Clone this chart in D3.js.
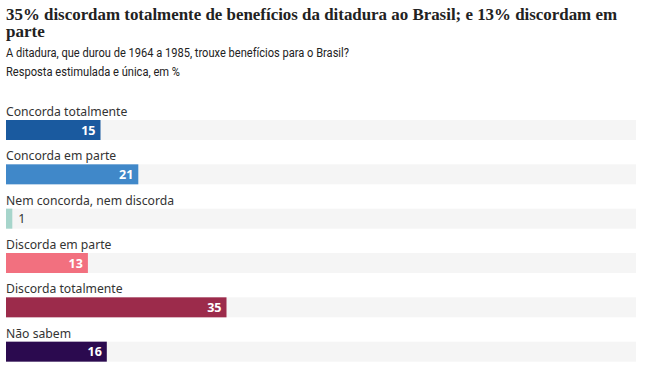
<!DOCTYPE html>
<html><head><meta charset="utf-8">
<script src="https://cdn.jsdelivr.net/npm/d3@7"></script>
<style>
body{margin:0;background:#fff;}
svg{display:block;}
</style></head>
<body>
<svg id="chart" width="646" height="379"></svg>
<script>
const titleLines = ["35% discordam totalmente de benefícios da ditadura ao Brasil; e 13% discordam em", "parte"];
const subtitle = "A ditadura, que durou de 1964 a 1985, trouxe benefícios para o Brasil?";
const note = "Resposta estimulada e única, em %";
const categories = ["Concorda totalmente","Concorda em parte","Nem concorda, nem discorda","Discorda em parte","Discorda totalmente","Não sabem"];
const values = [15,21,1,13,35,16];
const colors = ["#1a5a9f","#4088c9","#a6d5cb","#f2707f","#9c2b4b","#2b0a4f"];

const svg = d3.select("#chart");
const left = 6, right = 636;
const x = d3.scaleLinear().domain([0,100]).range([left,right]);
const y = d3.scaleBand().domain(categories).range([98, 364]).paddingInner(0).paddingOuter(0);

const t = svg.append("text").attr("x",6).attr("font-family","Liberation Serif, DejaVu Serif, serif")
  .attr("font-weight","bold").attr("font-size",17).attr("fill","#222");
t.append("tspan").attr("x",6).attr("y",19.5).attr("textLength",611).attr("lengthAdjust","spacingAndGlyphs").text(titleLines[0]);
t.append("tspan").attr("x",6).attr("y",37).text(titleLines[1]);
svg.append("text").attr("x",6).attr("y",57).attr("font-family","Roboto, sans-serif")
  .attr("font-size",12).attr("fill","#222").attr("textLength",343).attr("lengthAdjust","spacingAndGlyphs").text(subtitle);
svg.append("text").attr("x",6).attr("y",76).attr("font-family","Roboto, sans-serif")
  .attr("font-size",12).attr("fill","#222").attr("textLength",174).attr("lengthAdjust","spacingAndGlyphs").text(note);

const bh = 20;
const g = svg.append("g").selectAll("g").data(categories).join("g")
  .attr("transform", d => `translate(0,${y(d)})`);
g.append("text").attr("x",6).attr("y",18).attr("font-family","Noto Sans, sans-serif")
  .attr("font-size",12.2).attr("fill","#333").text(d=>d);
g.append("rect").attr("x",x(0)).attr("y",22).attr("width",x(100)-x(0)).attr("height",bh).attr("fill","#f5f5f5");
g.append("rect").attr("x",x(0)).attr("y",22).attr("width",(d,i)=>x(values[i])-x(0)).attr("height",bh)
  .attr("fill",(d,i)=>colors[i]);
g.append("text")
  .attr("x",(d,i)=> values[i] < 5 ? x(values[i]) + 6 : x(values[i]) - 5)
  .attr("y",22+bh/2+4.5)
  .attr("text-anchor",(d,i)=> values[i] < 5 ? "start" : "end")
  .attr("font-family","Noto Sans, sans-serif").attr("font-weight",(d,i)=> values[i] < 5 ? "normal" : "bold").attr("font-size",12.5)
  .attr("fill",(d,i)=> values[i] < 5 ? "#333" : "#fff")
  .text((d,i)=>values[i]);
</script>
</body></html>
